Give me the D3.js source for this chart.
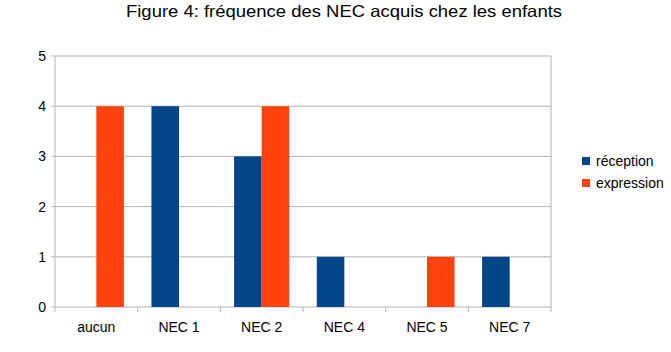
<!DOCTYPE html>
<html>
<head>
<meta charset="utf-8">
<script src="https://cdn.jsdelivr.net/npm/d3@7"></script>
<style>
body { margin: 0; background: #fff; }
text { font-family: "Liberation Sans", Arial, sans-serif; fill: #000; }
</style>
</head>
<body>
<div id="chart"></div>
<script>
//Data
const categories = ["aucun", "NEC 1", "NEC 2", "NEC 4", "NEC 5", "NEC 7"];
const reception = [0, 4, 3, 1, 0, 1];
const expression = [4, 0, 4, 0, 1, 0];
const seriesNames = ["réception", "expression"];
const yTicks = [0, 1, 2, 3, 4, 5];
const colors = ["#004586", "#ff420e"];

//Dim and plot area
const width = 671;
const height = 352;
const plot = {left: 55, top: 56, right: 551, bottom: 307};

const svg = d3.select("#chart")
    .append("svg")
    .attr("width", width)
    .attr("height", height);

//Title (original is slightly stretched, so fix its length)
svg.append("text")
    .attr("x", 126)
    .attr("y", 17)
    .attr("textLength", 436)
    .attr("lengthAdjust", "spacingAndGlyphs")
    .style("font-size", "16.5px")
    .text("Figure 4: fréquence des NEC acquis chez les enfants");

//Scaling
const xScale = d3.scaleBand()
    .domain(categories)
    .range([plot.left, plot.right]);

const yScale = d3.scaleLinear()
    .domain([0, 5])
    .range([plot.bottom, plot.top]);

const barW = xScale.bandwidth() / 3;

//Gridlines
svg.selectAll("line.grid")
    .data(yTicks)
    .enter()
    .append("line")
    .attr("class", "grid")
    .attr("x1", plot.left - 4)
    .attr("x2", plot.right)
    .attr("y1", d => yScale(d))
    .attr("y2", d => yScale(d))
    .attr("stroke", "#b3b3b3")
    .attr("stroke-width", 1);

//Bars
const rows = categories.map((c, i) => ({cat: c, values: [reception[i], expression[i]]}));

rows.forEach(row => {
    row.values.forEach((v, s) => {
        if (v === 0) return;
        const cx = xScale(row.cat) + xScale.bandwidth() / 2;
        svg.append("rect")
            .attr("x", s === 0 ? cx - barW : cx)
            .attr("y", yScale(v))
            .attr("width", barW)
            .attr("height", yScale(0) - yScale(v))
            .attr("fill", colors[s]);
    });
});

//Axis frame
svg.append("line")
    .attr("x1", plot.left).attr("x2", plot.left)
    .attr("y1", plot.top).attr("y2", plot.bottom)
    .attr("stroke", "#b3b3b3");
svg.append("line")
    .attr("x1", plot.right).attr("x2", plot.right)
    .attr("y1", plot.top).attr("y2", plot.bottom)
    .attr("stroke", "#b3b3b3");

//x ticks at category edges
const edges = categories.map(c => xScale(c)).concat([plot.right]);
svg.selectAll("line.xtick")
    .data(edges)
    .enter()
    .append("line")
    .attr("class", "xtick")
    .attr("x1", d => d).attr("x2", d => d)
    .attr("y1", plot.bottom).attr("y2", plot.bottom + 5)
    .attr("stroke", "#b3b3b3");

//y labels
svg.selectAll("text.ylab")
    .data(yTicks)
    .enter()
    .append("text")
    .attr("class", "ylab")
    .attr("x", plot.left - 9)
    .attr("y", d => yScale(d))
    .attr("dy", "0.35em")
    .attr("text-anchor", "end")
    .style("font-size", "14px")
    .text(d => d);

//x labels
svg.selectAll("text.xlab")
    .data(categories)
    .enter()
    .append("text")
    .attr("class", "xlab")
    .attr("x", d => xScale(d) + xScale.bandwidth() / 2)
    .attr("y", plot.bottom + 20)
    .attr("dy", "0.35em")
    .attr("text-anchor", "middle")
    .style("font-size", "14px")
    .text(d => d);

//Legend
const legend = svg.selectAll("g.legend")
    .data(seriesNames)
    .enter()
    .append("g")
    .attr("class", "legend")
    .attr("transform", (d, i) => `translate(582, ${161 + i * 22})`);

legend.append("rect")
    .attr("x", 0)
    .attr("y", -4)
    .attr("width", 8)
    .attr("height", 8)
    .attr("fill", (d, i) => colors[i]);

legend.append("text")
    .attr("x", 14)
    .attr("y", 0)
    .attr("dy", "0.35em")
    .style("font-size", "14px")
    .text(d => d);
</script>
</body>
</html>
